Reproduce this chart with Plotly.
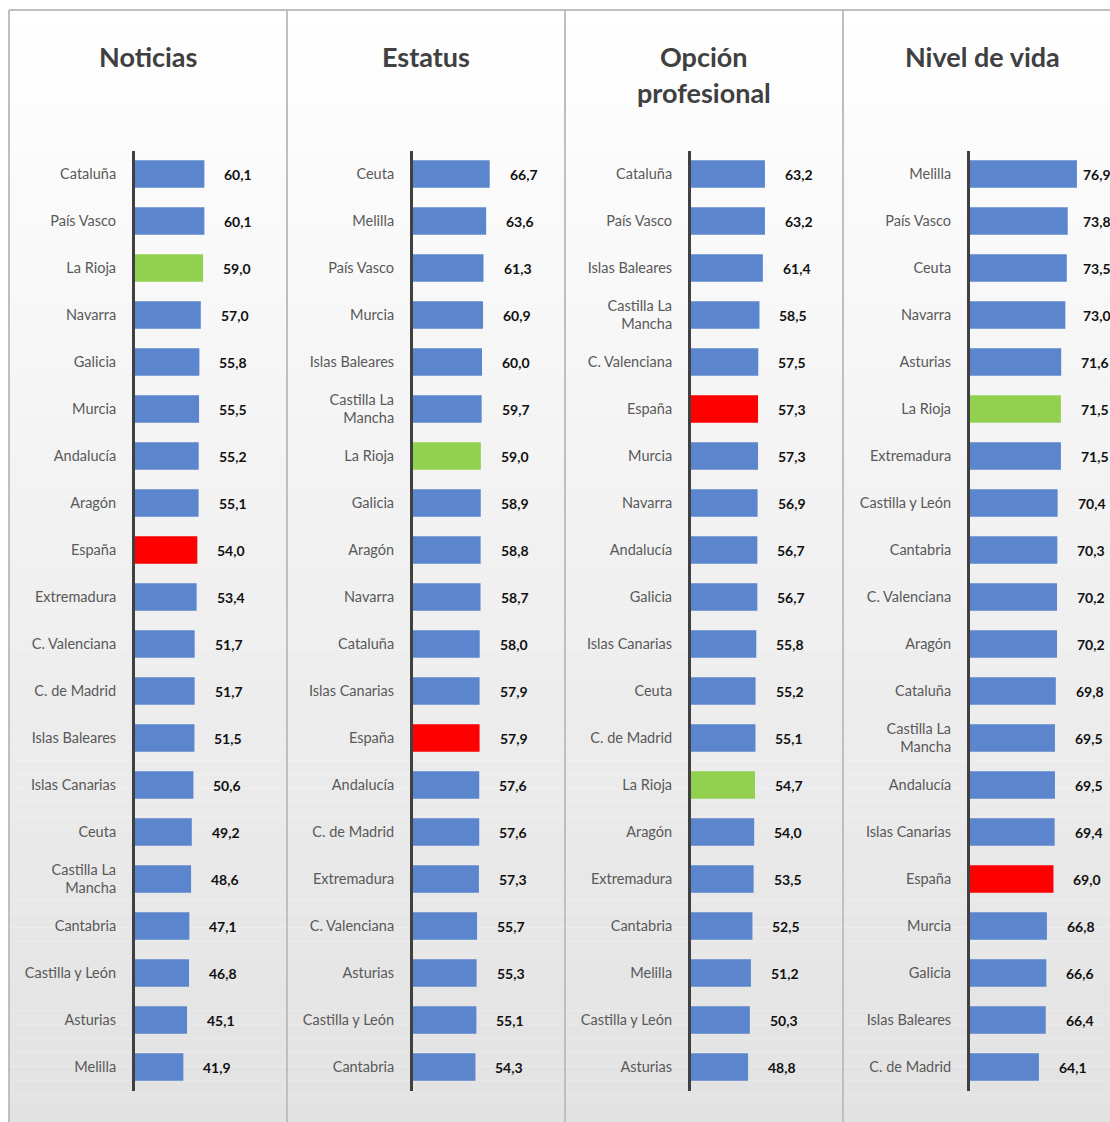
import plotly.graph_objects as go

W, H = 1110, 1122

# ---------------- data ----------------
noticias_regions = ["Cataluña", "País Vasco", "La Rioja", "Navarra", "Galicia", "Murcia", "Andalucía",
                    "Aragón", "España", "Extremadura", "C. Valenciana", "C. de Madrid", "Islas Baleares",
                    "Islas Canarias", "Ceuta", "Castilla La Mancha", "Cantabria", "Castilla y León",
                    "Asturias", "Melilla"]
noticias_values = [60.1, 60.1, 59.0, 57.0, 55.8, 55.5, 55.2, 55.1, 54.0, 53.4, 51.7, 51.7, 51.5,
                   50.6, 49.2, 48.6, 47.1, 46.8, 45.1, 41.9]

estatus_regions = ["Ceuta", "Melilla", "País Vasco", "Murcia", "Islas Baleares", "Castilla La Mancha",
                   "La Rioja", "Galicia", "Aragón", "Navarra", "Cataluña", "Islas Canarias", "España",
                   "Andalucía", "C. de Madrid", "Extremadura", "C. Valenciana", "Asturias",
                   "Castilla y León", "Cantabria"]
estatus_values = [66.7, 63.6, 61.3, 60.9, 60.0, 59.7, 59.0, 58.9, 58.8, 58.7, 58.0, 57.9, 57.9,
                  57.6, 57.6, 57.3, 55.7, 55.3, 55.1, 54.3]

opcion_regions = ["Cataluña", "País Vasco", "Islas Baleares", "Castilla La Mancha", "C. Valenciana",
                  "España", "Murcia", "Navarra", "Andalucía", "Galicia", "Islas Canarias", "Ceuta",
                  "C. de Madrid", "La Rioja", "Aragón", "Extremadura", "Cantabria", "Melilla",
                  "Castilla y León", "Asturias"]
opcion_values = [63.2, 63.2, 61.4, 58.5, 57.5, 57.3, 57.3, 56.9, 56.7, 56.7, 55.8, 55.2, 55.1,
                 54.7, 54.0, 53.5, 52.5, 51.2, 50.3, 48.8]

nivel_regions = ["Melilla", "País Vasco", "Ceuta", "Navarra", "Asturias", "La Rioja", "Extremadura",
                 "Castilla y León", "Cantabria", "C. Valenciana", "Aragón", "Cataluña",
                 "Castilla La Mancha", "Andalucía", "Islas Canarias", "España", "Murcia", "Galicia",
                 "Islas Baleares", "C. de Madrid"]
nivel_values = [76.9, 73.8, 73.5, 73.0, 71.6, 71.5, 71.5, 70.4, 70.3, 70.2, 70.2, 69.8, 69.5, 69.5,
                69.4, 69.0, 66.8, 66.6, 66.4, 64.1]

titles = [["Noticias"], ["Estatus"], ["Opción", "profesional"], ["Nivel de vida"]]

panels = [
    (noticias_regions, noticias_values),
    (estatus_regions, estatus_values),
    (opcion_regions, opcion_values),
    (nivel_regions, nivel_values),
]

# ---------------- style / layout (window pixel positions) ----------------
BLUE, GREEN, RED = "#5B85CD", "#92D050", "#FF0000"
LABEL_COLOR = "#595959"
FONT = "Lato"

panel_edges = [9, 287, 565, 843, 1121]
axis_px = [135, 413, 691, 970]
axis_min = [0, 0, 0, 40.9]
px_per_unit = [1.154, 1.15, 1.17, 2.97]
plot_right_px = [262, 540, 818, 1110]
label_cap_px = [None, None, None, 1081]
top_px, bottom_px = 150.5, 1090.5

def px2x(p):
    return p / W

def px2y(p):
    return 1 - p / H

def color_for(name):
    if name == "España":
        return RED
    if name == "La Rioja":
        return GREEN
    return BLUE

def wrap(name):
    return "Castilla La<br>Mancha" if name == "Castilla La Mancha" else name

fig = go.Figure()
layout = dict(width=W, height=H, margin=dict(l=0, r=0, t=0, b=0),
              paper_bgcolor="white", plot_bgcolor="rgba(0,0,0,0)",
              showlegend=False, annotations=[], shapes=[],
              font=dict(family=FONT))

# background gradient
N = 80
y0, y1 = 10, H
c_top, c_bot = 255, 226
for i in range(N):
    a = y0 + (y1 - y0) * i / N
    b = y0 + (y1 - y0) * (i + 1) / N
    c = round(c_top + (c_bot - c_top) * (i + 0.5) / N)
    layout["shapes"].append(dict(type="rect", xref="paper", yref="paper", layer="below",
                                 x0=px2x(panel_edges[0]), x1=1.01, y0=px2y(b), y1=px2y(a),
                                 fillcolor=f"rgb({c},{c},{c})", line=dict(width=0)))
# panel borders
for e in panel_edges:
    layout["shapes"].append(dict(type="line", xref="paper", yref="paper", layer="below",
                                 x0=px2x(e), x1=px2x(e), y0=-0.01, y1=px2y(10),
                                 line=dict(color="#BFBFBF", width=2)))
layout["shapes"].append(dict(type="line", xref="paper", yref="paper", layer="below",
                             x0=px2x(panel_edges[0]), x1=1.01, y0=px2y(10), y1=px2y(10),
                             line=dict(color="#BFBFBF", width=2)))

for k, (regions, values) in enumerate(panels):
    n = k + 1
    xa = "x" if n == 1 else f"x{n}"
    ya = "y" if n == 1 else f"y{n}"
    xkey = "xaxis" if n == 1 else f"xaxis{n}"
    ykey = "yaxis" if n == 1 else f"yaxis{n}"
    idx = list(range(len(regions)))
    fig.add_trace(go.Bar(orientation="h", x=values, y=idx,
                         marker=dict(color=[color_for(r) for r in regions], line=dict(width=0)),
                         width=0.58, xaxis=xa, yaxis=ya, hoverinfo="skip"))
    xmin = axis_min[k]
    xmax = xmin + (plot_right_px[k] - axis_px[k]) / px_per_unit[k]
    layout[xkey] = dict(domain=[px2x(axis_px[k]), min(1, px2x(plot_right_px[k]))], range=[xmin, xmax],
                        visible=False, anchor=ya, fixedrange=True)
    layout[ykey] = dict(domain=[px2y(bottom_px), px2y(top_px)], range=[len(regions) - 0.5, -0.5],
                        anchor=xa, tickmode="array", tickvals=idx,
                        ticktext=[wrap(r) for r in regions],
                        tickfont=dict(family=FONT, size=14.5, color=LABEL_COLOR),
                        ticks="", ticklabelstandoff=13, showgrid=False, zeroline=False,
                        showline=True, linecolor="#404040", linewidth=3, automargin=False,
                        fixedrange=True)
    # value labels
    gap_units = 18 / px_per_unit[k]
    cap = None if label_cap_px[k] is None else xmin + (label_cap_px[k] - axis_px[k]) / px_per_unit[k]
    for i, v in enumerate(values):
        lx = v + gap_units
        if cap is not None:
            lx = min(lx, cap)
        layout["annotations"].append(dict(
            x=lx, y=i, xref=xa, yref=ya, xanchor="left", yanchor="middle", showarrow=False,
            text="<b>" + f"{v:.1f}".replace(".", ",") + "</b>",
            font=dict(family=FONT, size=14, color="#111111")))
    # titles
    cx = (panel_edges[k] + panel_edges[k + 1]) / 2 if k < 3 else 982
    for j, line in enumerate(titles[k]):
        layout["annotations"].append(dict(
            x=px2x(cx), y=px2y(56 + 36 * j), xref="paper", yref="paper",
            xanchor="center", yanchor="middle", showarrow=False,
            text="<b>" + line + "</b>", font=dict(family=FONT, size=27, color="#404040")))

fig.update_layout(**layout)
fig.write_html("out.html", config={"displayModeBar": False},
               post_script="document.body.style.margin='0px';document.body.style.overflow='hidden';")
